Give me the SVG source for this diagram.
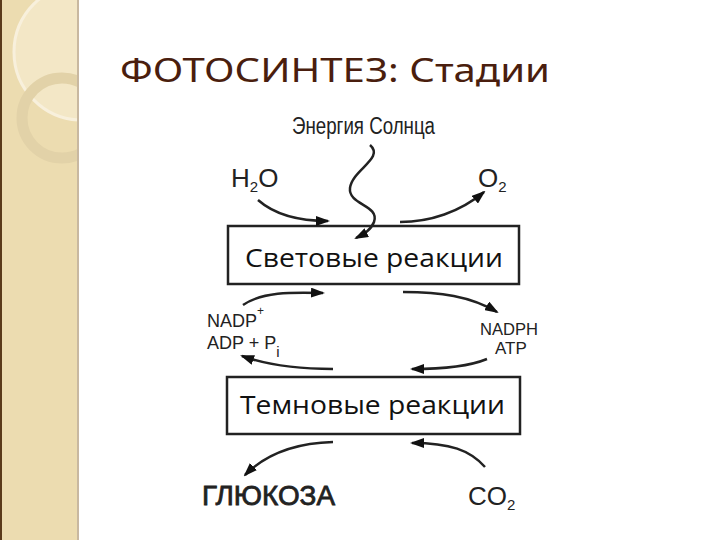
<svg xmlns="http://www.w3.org/2000/svg" width="720" height="540" viewBox="0 0 720 540">
<style>
.lbl{font-family:"Liberation Sans",Arial,sans-serif;fill:#222}
.box{fill:#fff;stroke:#222;stroke-width:2.5}
.boxt{font-family:"Open Sans","DejaVu Sans",sans-serif;font-size:25px;fill:#111}
.con{fill:none;stroke:#222;stroke-width:2.5}
</style>
<defs>
<marker id="ah" viewBox="0 0 14 10" refX="12" refY="5" markerWidth="14" markerHeight="10" markerUnits="userSpaceOnUse" orient="auto">
<path d="M0,0 L14,5 L0,10 Z" fill="#111"/>
</marker>
<clipPath id="sb"><rect x="0" y="0" width="78" height="540"/></clipPath>
</defs>
<rect x="0" y="0" width="720" height="540" fill="#fff"/>
<g id="sidebar">
<rect x="0" y="0" width="78" height="540" fill="#ecdcb0"/>
<g clip-path="url(#sb)">
<circle cx="82" cy="52" r="68" fill="#f3e7c6" stroke="#f8f0dc" stroke-width="3"/>
<circle cx="62" cy="118" r="40" fill="none" stroke="#e2d2a8" stroke-width="11"/>
</g>
<rect x="0" y="0" width="2" height="540" fill="#5a3a1a"/>
<rect x="77" y="0" width="2" height="540" fill="#c8b8a0"/>
</g>
<text id="title" x="120" y="82" font-family="Noto Sans,'Open Sans',sans-serif" font-size="32" fill="#4a1e0e" textLength="430" lengthAdjust="spacingAndGlyphs">ФОТОСИНТЕЗ: Стадии</text>
<g id="light">
<rect class="box" x="228" y="226" width="291" height="58"/>
<text class="boxt" x="245" y="267" textLength="258" lengthAdjust="spacingAndGlyphs">Световые реакции</text>
</g>
<g id="dark">
<rect class="box" x="227" y="377" width="293" height="57"/>
<text class="boxt" x="240" y="414" textLength="265" lengthAdjust="spacingAndGlyphs">Темновые реакции</text>
</g>
<g id="sun"><text class="lbl" x="292" y="134" font-size="23" textLength="143" lengthAdjust="spacingAndGlyphs">Энергия Солнца</text></g>
<g id="h2o"><text class="lbl" x="231" y="187" font-size="26">H<tspan font-size="15" dy="5">2</tspan><tspan dy="-5">O</tspan></text></g>
<g id="o2"><text class="lbl" x="478" y="187" font-size="26">O<tspan font-size="15" dy="5">2</tspan></text></g>
<g id="nadp"><text class="lbl" x="207" y="327" font-size="18">NADP<tspan font-size="12" dy="-12">+</tspan></text>
<text class="lbl" x="207" y="349" font-size="18">ADP + P<tspan font-size="15" dy="8">i</tspan></text></g>
<g id="nadph"><text class="lbl" x="480" y="335" font-size="17" textLength="58" lengthAdjust="spacingAndGlyphs">NADPH</text>
<text class="lbl" x="495" y="354" font-size="17">ATP</text></g>
<g id="glucose"><text class="lbl" x="202" y="505" font-size="28" stroke="#222" stroke-width="0.8" textLength="133" lengthAdjust="spacingAndGlyphs">ГЛЮКОЗА</text></g>
<g id="co2"><text class="lbl" x="468" y="505" font-size="26">CO<tspan font-size="15" dy="5">2</tspan></text></g>
<g id="connectors">
<path class="con" marker-end="url(#ah)" d="M370,145 C385,158 352,170 350,188 C348,205 380,205 374,222 C371,230 364,234 356,238"/>
<path class="con" marker-end="url(#ah)" d="M258,200 C275,215 300,221 328,221"/>
<path class="con" marker-end="url(#ah)" d="M400,222 C430,222 460,212 484,192"/>
<path class="con" marker-end="url(#ah)" d="M243,305 C262,292 290,292 323,293"/>
<path class="con" marker-end="url(#ah)" d="M403,292 C440,292 470,296 497,312"/>
<path class="con" marker-end="url(#ah)" d="M333,369 C300,369 270,366 242,356"/>
<path class="con" marker-end="url(#ah)" d="M487,359 C470,366 440,369 412,369"/>
<path class="con" marker-end="url(#ah)" d="M333,442 C295,443 265,455 245,475"/>
<path class="con" marker-end="url(#ah)" d="M485,467 C470,450 450,443 412,443"/>
</g>
</svg>
